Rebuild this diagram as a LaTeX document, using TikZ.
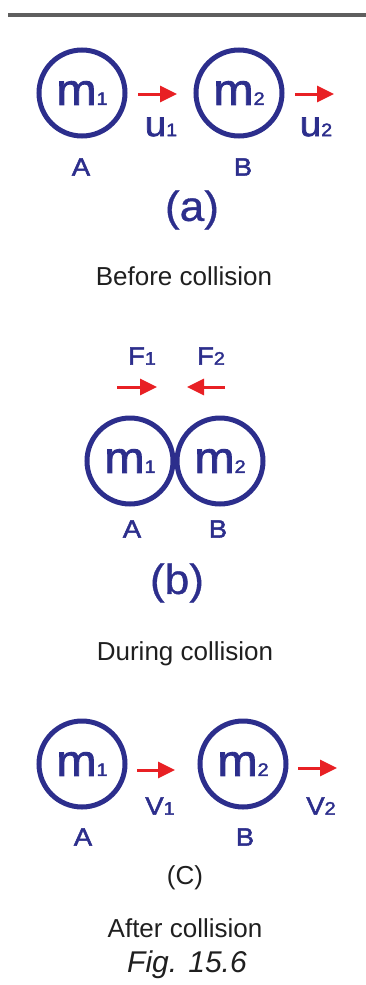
\documentclass[tikz,border=0pt]{standalone}
\usepackage{fontspec}
\setmainfont{Liberation Sans}
\newfontfamily\lblfont[FakeStretch=1.1, FakeBold=2]{Liberation Sans}
\newfontfamily\tagfont[FakeStretch=1.05, FakeBold=0.8]{Liberation Sans}
\usetikzlibrary{arrows.meta}
\definecolor{ballblue}{RGB}{44,46,140}
\definecolor{arrred}{RGB}{232,32,36}
\definecolor{scangray}{RGB}{95,95,95}
\newcommand{\sub}[1]{{\fontsize{18}{18}\selectfont #1}}

\begin{document}
\begin{tikzpicture}[x=1pt, y=-1pt,
    ball/.style={circle, draw=ballblue, line width=5pt, minimum size=86pt,
        inner sep=0pt, text=ballblue, font=\lblfont\fontsize{44}{44}\selectfont},
    vlbl/.style={text=ballblue, inner sep=0pt, font=\lblfont\fontsize{35}{35}\selectfont},
    plbl/.style={text=ballblue, inner sep=0pt, font=\lblfont\fontsize{25}{25}\selectfont},
    tag/.style={text=ballblue, inner sep=0pt, font=\tagfont\fontsize{42}{42}\selectfont},
    caption/.style={anchor=base, inner sep=0pt, text=black!88, font=\fontsize{26}{26}\selectfont},
    arr/.style={-{Triangle[length=17pt, width=16pt]}, line width=3pt, arrred}
]
\useasboundingbox (0,0) rectangle (366,985);
\fill[scangray] (8,13) rectangle (366,17);

% (a) before collision
\node[ball] (ma) at (82,93) {m\sub{1}};
\node[ball] (mb) at (239,93) {m\sub{2}};
\coordinate (ua1) at (138,94);
\coordinate (ub1) at (177,94);
\coordinate (ua2) at (295,94);
\coordinate (ub2) at (334,94);
\draw[arr] (ua1) -- (ub1);
\draw[arr] (ua2) -- (ub2);
\node[vlbl] (u1) at (161,127) {u\sub{1}};
\node[vlbl] (u2) at (316,127) {u\sub{2}};
\node[plbl] (la) at (81,167) {A};
\node[plbl] (lb) at (243,167) {B};
\node[tag] (taga) at (192,210) {(a)};
\node[caption] (capa) at (184,285) {Before collision};

% (b) during collision
\node[plbl] (f1) at (142,356) {F\sub{1}};
\node[plbl] (f2) at (211,356) {F\sub{2}};
\coordinate (fa1) at (117,387);
\coordinate (fb1) at (157,387);
\coordinate (fa2) at (225,387);
\coordinate (fb2) at (187,387);
\draw[arr] (fa1) -- (fb1);
\draw[arr] (fa2) -- (fb2);
\node[ball] (ca) at (130,461) {m\sub{1}};
\node[ball] (cb) at (220,461) {m\sub{2}};
\node[plbl] (lc) at (132,529) {A};
\node[plbl] (ld) at (218,529) {B};
\node[tag] (tagb) at (177,583) {(b)};
\node[caption] (capb) at (185,660) {During collision};

% (c) after collision
\node[ball] (pa) at (82,764) {m\sub{1}};
\node[ball] (pb) at (243,764) {m\sub{2}};
\coordinate (va1) at (137,770);
\coordinate (vb1) at (175,770);
\coordinate (va2) at (298,768);
\coordinate (vb2) at (337,768);
\draw[arr] (va1) -- (vb1);
\draw[arr] (va2) -- (vb2);
\node[plbl] (v1) at (160,806) {V\sub{1}};
\node[plbl] (v2) at (321,806) {V\sub{2}};
\node[plbl] (le) at (83,837) {A};
\node[plbl] (lf) at (245,837) {B};
\node[caption] (tagc) at (185,884) {(C)};
\node[caption] (capc) at (185,937) {After collision};
\node[caption, font=\itshape\fontsize{30}{30}\selectfont] (fig) at (187,972) {Fig. 15.6};
\end{tikzpicture}
\end{document}
